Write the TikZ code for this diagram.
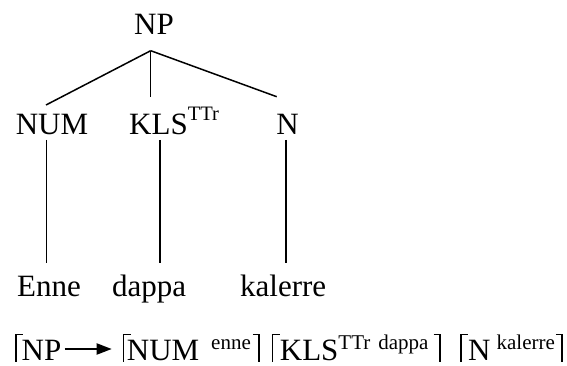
\documentclass[tikz,border=0pt]{standalone}
\usepackage{fontspec}
\setmainfont{Liberation Serif}
\newfontfamily\tnr{Liberation Serif}
\usetikzlibrary{arrows.meta}
\newcommand\lbr[1]{\rule[-1pt]{1.4pt}{27.5pt}\kern-1.4pt\rule[25.1pt]{8pt}{1.4pt}\kern#1}
\newcommand\rbr{\rule[25.1pt]{7pt}{1.4pt}\kern-1.4pt\rule[-1pt]{1.4pt}{27.5pt}}
\newcommand\sps[1]{\raisebox{11pt}{\fontsize{21}{21}\selectfont #1}}
\newcommand\spt[1]{\raisebox{14pt}{\fontsize{20.5}{20.5}\selectfont #1}}
\begin{document}
\begin{tikzpicture}[x=1pt,y=-1pt,
  lab/.style={inner sep=0pt,anchor=base,font=\tnr\fontsize{31}{31}\selectfont},
  labw/.style={inner sep=0pt,anchor=base west,font=\tnr\fontsize{31}{31}\selectfont},
  form/.style={inner sep=0pt,anchor=base west,font=\tnr\fontsize{31}{31}\selectfont},
  edge/.style={line width=1.5pt},
  bigarrow/.style={line width=2pt,-{Triangle[length=15pt,width=11pt]}}]
\useasboundingbox (0,0) rectangle (567,366);
% tree labels
\node[lab] (np) at (154,34.3) {NP};
\node[lab] (num) at (52,134.3) {NUM};
\node[labw] (kls) at (129,134.3) {KLS\spt{TTr}};
\node[lab] (n) at (287.5,134.3) {N};
\node[labw] (enne) at (17,296.7) {Enne};
\node[labw] (dappa) at (112,296.7) {dappa};
\node[labw] (kalerre) at (240,296.7) {kalerre};
% branch points
\coordinate (apex) at (150.7,50.7);
\coordinate (numup) at (46,105);
\coordinate (klsup) at (150.7,96.7);
\coordinate (nup) at (276.7,96.7);
\coordinate (numdn) at (46.5,140);
\coordinate (numlo) at (46.5,262.7);
\coordinate (klsdn) at (160,140);
\coordinate (klslo) at (160,262.7);
\coordinate (ndn) at (286,140);
\coordinate (nlo) at (286,262.7);
\draw[edge] (apex) -- (numup);
\draw[edge] (apex) -- (klsup);
\draw[edge] (apex) -- (nup);
\draw[edge] (numdn) -- (numlo);
\draw[edge] (klsdn) -- (klslo);
\draw[edge] (ndn) -- (nlo);
% formula
\node[form] (npb) at (15,360.5) {\lbr{-1.5pt}NP};
\node[form] (f1) at (122.7,360.5) {\lbr{-4pt}NUM\hspace{12pt}\sps{enne}\kern2pt\rbr};
\node[form] (f2) at (271.7,360.5) {\lbr{0pt}KLS\sps{TTr\hspace{8pt}dappa}\kern5pt\rbr};
\node[form] (f3) at (460,360.5) {\lbr{0pt}N\hspace{6pt}\sps{kalerre}\kern1pt\rbr};
\draw[bigarrow] ([xshift=3pt,yshift=11.5pt]npb.base east) -- ([xshift=-11pt,yshift=11.5pt]npb.base east -| f1.base west);
\end{tikzpicture}
\end{document}
